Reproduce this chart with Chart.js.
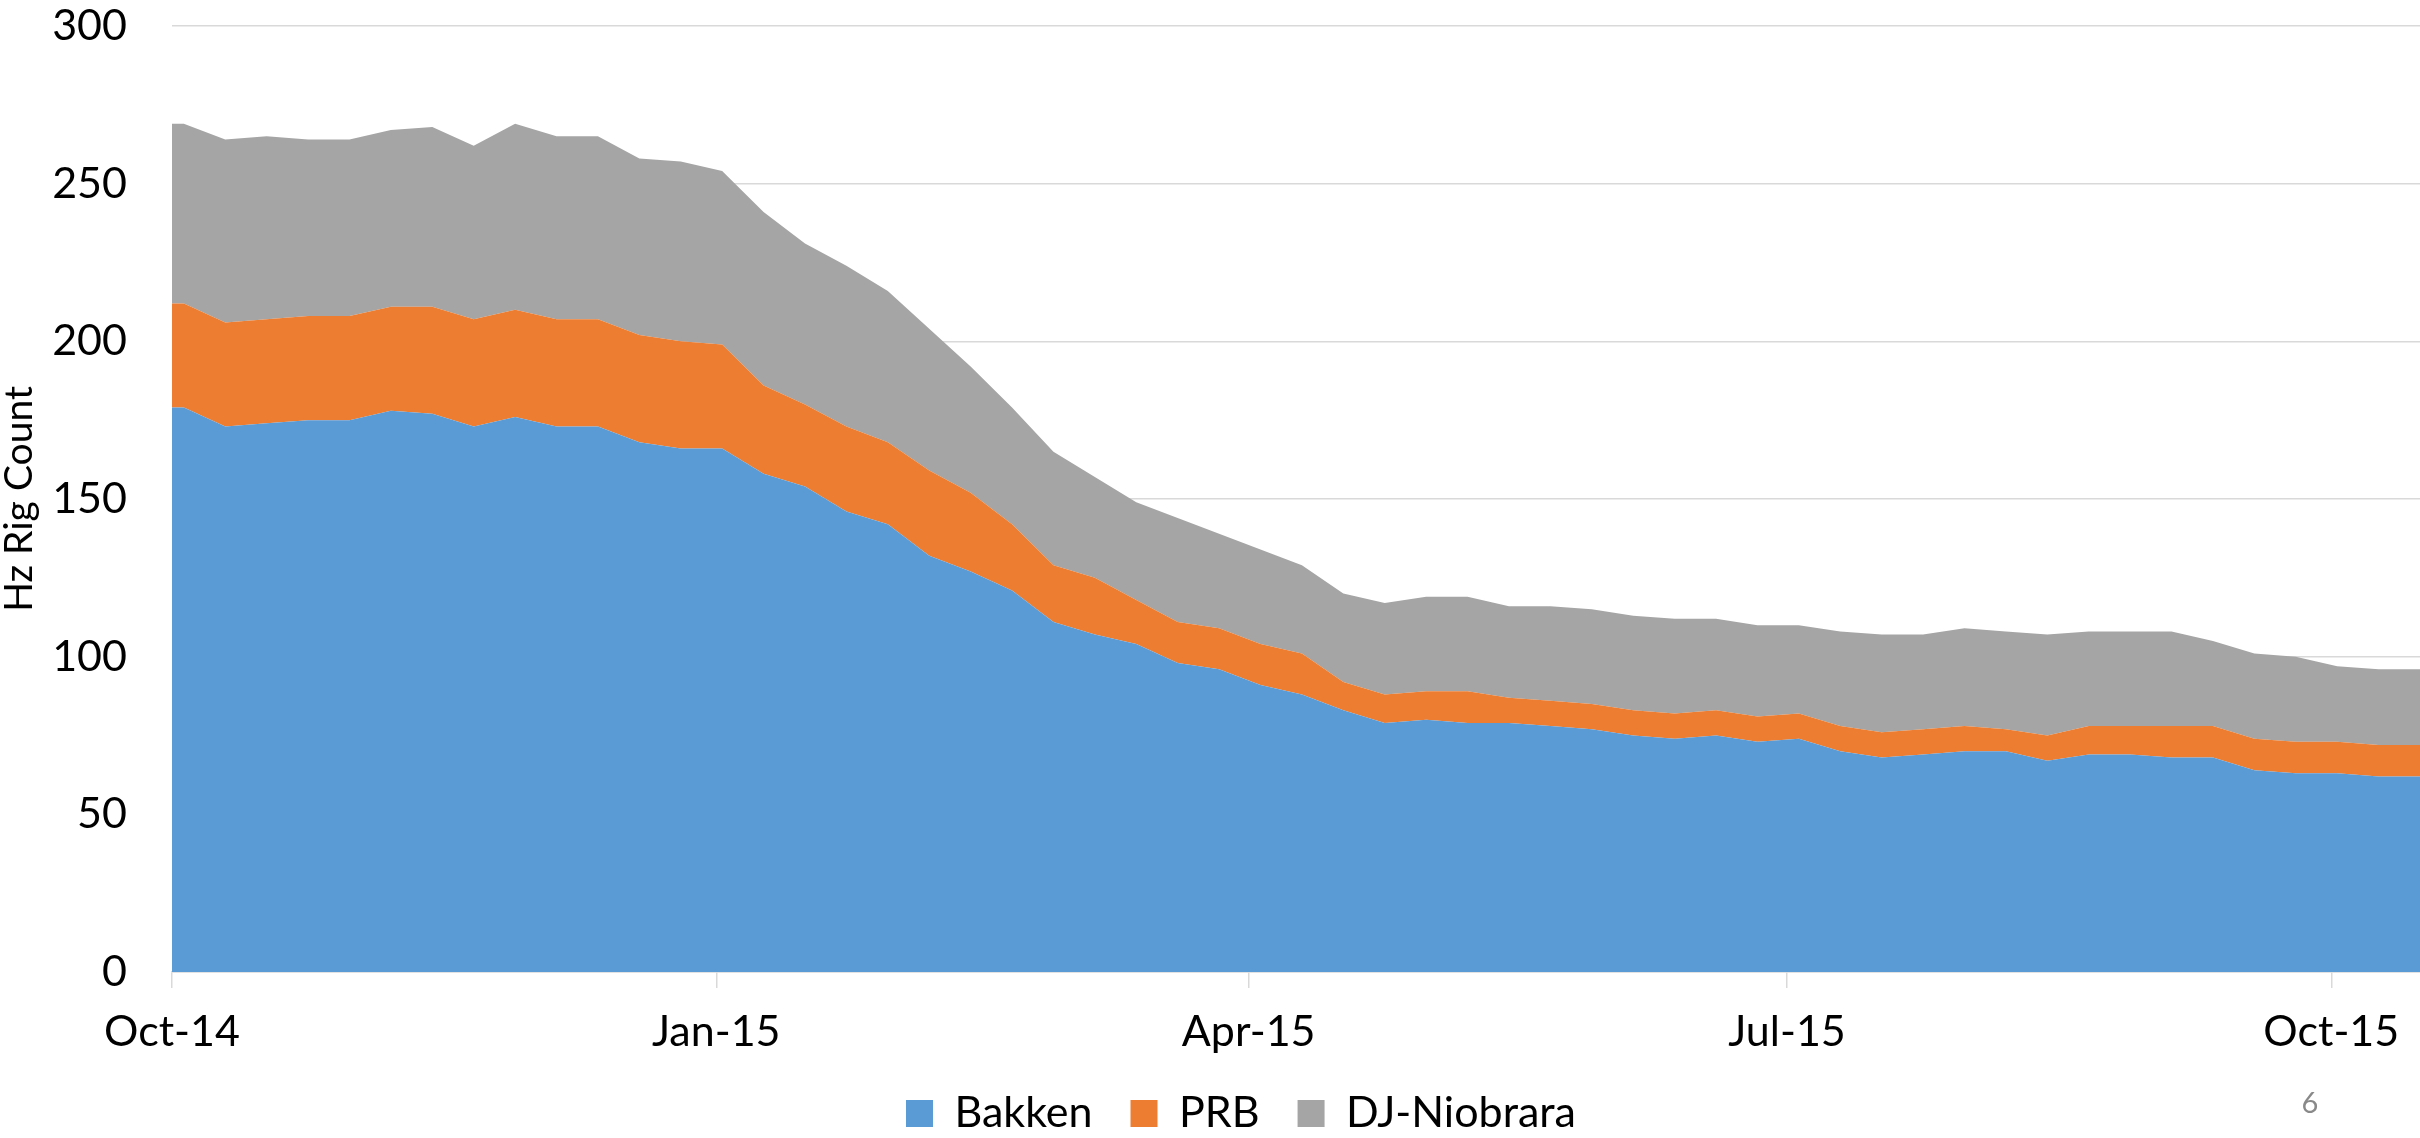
<!DOCTYPE html>
<html>
<head>
<meta charset="utf-8">
<script src="https://cdn.jsdelivr.net/npm/chart.js@4.4.0/dist/chart.umd.min.js"></script>
<style>
  html, body { margin: 0; padding: 0; background: #ffffff; }
  #wrap { width: 2420px; height: 1138px; }
</style>
</head>
<body>
<div id="wrap"><canvas id="rigChart" width="2420" height="1138"></canvas></div>
<script>
// Weekly horizontal rig counts (first entry is the axis start, same values as the first week)
const weekDates = [
    '2014-10-01', '2014-10-03', '2014-10-10', '2014-10-17', '2014-10-24', '2014-10-31',
    '2014-11-07', '2014-11-14', '2014-11-21', '2014-11-28', '2014-12-05', '2014-12-12',
    '2014-12-19', '2014-12-26', '2015-01-02', '2015-01-09', '2015-01-16', '2015-01-23',
    '2015-01-30', '2015-02-06', '2015-02-13', '2015-02-20', '2015-02-27', '2015-03-06',
    '2015-03-13', '2015-03-20', '2015-03-27', '2015-04-03', '2015-04-10', '2015-04-17',
    '2015-04-24', '2015-05-01', '2015-05-08', '2015-05-15', '2015-05-22', '2015-05-29',
    '2015-06-05', '2015-06-12', '2015-06-19', '2015-06-26', '2015-07-03', '2015-07-10',
    '2015-07-17', '2015-07-24', '2015-07-31', '2015-08-07', '2015-08-14', '2015-08-21',
    '2015-08-28', '2015-09-04', '2015-09-11', '2015-09-18', '2015-09-25', '2015-10-02',
    '2015-10-09', '2015-10-16'
];

const bakken = [179, 179, 173, 174, 175, 175, 178, 177, 173, 176, 173,
    173, 168, 166, 166, 158, 154, 146, 142, 132, 127,
    121, 111, 107, 104, 98, 96, 91, 88, 83, 79,
    80, 79, 79, 78, 77, 75, 74, 75, 73, 74,
    70, 68, 69, 70, 70, 67, 69, 69, 68, 68,
    64, 63, 63, 62, 62];

const prb = [33, 33, 33, 33, 33, 33, 33, 34, 34, 34, 34,
    34, 34, 34, 33, 28, 26, 27, 26, 27, 25,
    21, 18, 18, 14, 13, 13, 13, 13, 9, 9,
    9, 10, 8, 8, 8, 8, 8, 8, 8, 8,
    8, 8, 8, 8, 7, 8, 9, 9, 10, 10,
    10, 10, 10, 10, 10];

const djNiobrara = [57, 57, 58, 58, 56, 56, 56, 57, 55, 59, 58,
    58, 56, 57, 55, 55, 51, 51, 48, 45, 40,
    37, 36, 32, 31, 33, 30, 30, 28, 28, 29,
    30, 30, 29, 30, 30, 30, 30, 29, 29, 28,
    30, 31, 30, 31, 31, 32, 30, 30, 30, 27,
    27, 27, 24, 24, 24];

const tickDates = ['2014-10-01', '2015-01-01', '2015-04-01', '2015-07-01', '2015-10-01'];
const tickLabels = ['Oct-14', 'Jan-15', 'Apr-15', 'Jul-15', 'Oct-15'];

const FONT = 'Lato';
const DAY = 86400000;

function dayOffset(d) {
    return (Date.parse(d) - Date.parse(weekDates[0])) / DAY;
}

function seriesPoints(values) {
    return weekDates.map((d, i) => ({ x: dayOffset(d), y: values[i] }));
}

// move the legend to where it sits on the slide, and let the x labels
// draw below the (short) x scale box without being clipped
const layoutNudge = {
    id: 'layoutNudge',
    afterLayout(chart) {
        const lg = chart.legend;
        const dy = 1054 - lg.top;
        lg.left += 31;
        lg.right += 31;
        lg.top += dy;
        lg.bottom += dy;
        chart.scales.x.bottom = chart.scales.x.top + 130;
    }
};

// slide page number in the bottom right corner
const pageNumber = {
    id: 'pageNumber',
    afterDraw(chart) {
        const ctx = chart.ctx;
        ctx.save();
        ctx.font = '29px ' + FONT;
        ctx.fillStyle = '#898989';
        ctx.textAlign = 'center';
        ctx.textBaseline = 'middle';
        ctx.fillText('6', 2310, 1104);
        ctx.restore();
    }
};

new Chart(document.getElementById('rigChart'), {
    type: 'line',
    data: {
        datasets: [
            { label: 'Bakken', data: seriesPoints(bakken), backgroundColor: '#5B9BD5', borderColor: '#5B9BD5', fill: 'origin' },
            { label: 'PRB', data: seriesPoints(prb), backgroundColor: '#ED7D31', borderColor: '#ED7D31', fill: '-1' },
            { label: 'DJ-Niobrara', data: seriesPoints(djNiobrara), backgroundColor: '#A5A5A5', borderColor: '#A5A5A5', fill: '-1' }
        ]
    },
    options: {
        responsive: false,
        animation: false,
        layout: { padding: { top: 26, right: 0, left: 0, bottom: 0 } },
        elements: {
            point: { radius: 0, hoverRadius: 0 },
            line: { borderWidth: 0, tension: 0 }
        },
        plugins: {
            tooltip: { enabled: false },
            legend: {
                position: 'bottom',
                labels: {
                    boxWidth: 27,
                    boxHeight: 27,
                    padding: 38,
                    color: '#000',
                    font: { family: FONT, size: 43 }
                }
            }
        },
        scales: {
            x: {
                type: 'linear',
                min: 0,
                max: dayOffset(weekDates[weekDates.length - 1]),
                afterBuildTicks: (scale) => {
                    scale.ticks = tickDates.map(d => ({ value: dayOffset(d) }));
                },
                afterFit: (scale) => {
                    // keep the plot bottom at the same place whatever the legend needs
                    const lgHeight = (scale.chart.legend && scale.chart.legend.height) || 66;
                    scale.height = 1138 - 972 - lgHeight;
                },
                ticks: {
                    autoSkip: false,
                    maxRotation: 0,
                    padding: 18,
                    color: '#000',
                    font: { family: FONT, size: 43 },
                    callback: (value, index) => tickLabels[index]
                },
                grid: { drawOnChartArea: false, drawTicks: true, tickLength: 16, color: '#d9d9d9', lineWidth: 1.5 },
                border: { color: '#d9d9d9', width: 1.5 }
            },
            y: {
                stacked: true,
                min: 0,
                max: 300,
                afterFit: (scale) => { scale.width = 172; },
                ticks: {
                    stepSize: 50,
                    padding: 0,
                    color: '#000',
                    font: { family: FONT, size: 43 }
                },
                grid: { color: '#d9d9d9', lineWidth: 1.5, drawTicks: true, tickLength: 45, tickColor: 'rgba(0,0,0,0)' },
                border: { display: false },
                title: {
                    display: true,
                    text: 'Hz Rig Count',
                    color: '#000',
                    padding: 0,
                    font: { family: FONT, size: 39, lineHeight: 1.0 }
                }
            }
        }
    },
    plugins: [layoutNudge, pageNumber]
});
</script>
</body>
</html>
